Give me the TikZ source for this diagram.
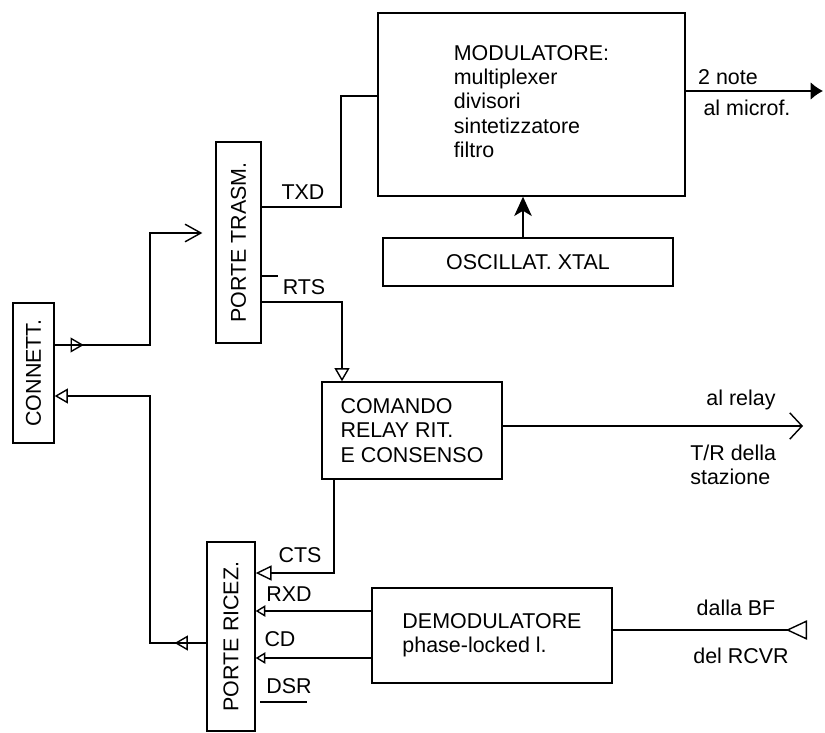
\documentclass[tikz,border=0pt]{standalone}
\usepackage{fontspec}
\setmainfont{Liberation Sans}
\usepackage{graphicx}
\usetikzlibrary{arrows.meta,decorations.markings}
\tikzset{
  OTri/.tip={Triangle[open,length=7.5pt,width=8.5pt,line width=0.8pt]},
  OTriB/.tip={Triangle[open,length=9pt,width=8.5pt,line width=0.8pt]},
  OTriS/.tip={Triangle[open,length=5.5pt,width=6.5pt,line width=0.8pt]},
  ORev/.tip={Triangle[open,reversed,length=12pt,width=11pt,line width=0.8pt]},
  Chev/.tip={Straight Barb[length=9pt,width=10pt,line width=0.8pt]},
  ChevW/.tip={Straight Barb[length=7pt,width=15pt,line width=0.8pt]},
}
\begin{document}
\begin{tikzpicture}[x=0.02cm,y=-0.02cm,
  every node/.style={font=\fontsize{12.2}{13.8}\selectfont},
  box/.style={draw, line width=0.8pt, inner sep=0pt},
  wire/.style={line width=0.8pt},
  lbl/.style={inner sep=0pt},
  midR/.style={postaction={decorate}, decoration={markings, mark=at position 16.5pt with {\arrow{OTri}}}},
  midL/.style={postaction={decorate}, decoration={markings, mark=at position 18pt with {\arrow{OTri}}}},
]
\useasboundingbox (0,0) rectangle (825,733);

% boxes
\node[box, minimum width=6.14cm, minimum height=3.66cm, align=left] (mod) at (531.5,104.5)
  {MODULATORE:\\multiplexer\\divisori\\sintetizzatore\\filtro\\[-10.4pt]};
\node[box, minimum width=5.8cm, minimum height=0.96cm] (osc) at (528,262) {OSCILLAT.\ XTAL};
\node[box, minimum width=0.9cm, minimum height=4.02cm] (ptr) at (238.5,242.5) {\rotatebox{90}{PORTE TRASM.}};
\node[box, minimum width=0.82cm, minimum height=2.8cm] (cn) at (33.5,373) {\rotatebox{90}{CONNETT.}};
\node[box, minimum width=3.6cm, minimum height=1.94cm, align=left] (com) at (412,430.5)
  {COMANDO\\RELAY RIT.\\E CONSENSO};
\node[box, minimum width=0.96cm, minimum height=3.78cm] (pri) at (231,636.5) {\rotatebox{90}{PORTE RICEZ.}};
\node[box, minimum width=4.8cm, minimum height=1.9cm, align=left] (dem) at (492,635.5)
  {DEMODULATORE\\phase-locked l.};

% free ends
\coordinate (mout) at (823,91);
\coordinate (rout) at (803,426);
\coordinate (bfin) at (807,630);
\coordinate (tickend) at (278,276);
\coordinate (dsrA) at (260,702);
\coordinate (dsrB) at (307,702);

% connectors
\draw[wire, midR, -Chev, shorten >=7.4pt] (cn.east |- 0,345) -- (150,345) |- (ptr.west |- 0,233);
\draw[wire, midL, -OTri] (pri.west |- 0,643) -- (150,643) |- (cn.east |- 0,396);
\draw[wire] (ptr.east |- 0,207) -- (341,207) |- (mod.west |- 0,96);
\draw[wire] (ptr.east |- tickend) -- (tickend);
\draw[wire, -OTri] (ptr.east |- 0,302) -| (com.north -| 342,0);
\draw[wire, -{Stealth[length=11pt,width=10pt,inset=3pt]}] (osc.north -| 523,0) -- (mod.south -| 523,0);
\draw[wire, -{Latex[length=7pt,width=10pt]}] (mod.east |- mout) -- (mout);
\draw[wire, -ChevW] (com.east |- rout) -- (rout);
\draw[wire, -OTriB] (com.south -| 334,0) |- (pri.east |- 0,573);
\draw[wire, -OTriS] (dem.west |- 0,611) -- (pri.east |- 0,611);
\draw[wire, -OTriS] (dem.west |- 0,658) -- (pri.east |- 0,658);
\draw[wire, ORev-] (bfin) -- (dem.east |- bfin);
\draw[wire] (dsrA) -- (dsrB);

% labels
\node[lbl] (lTXD) at (303,192) {TXD};
\node[lbl] (lRTS) at (304,287) {RTS};
\node[lbl] (lCTS) at (300,555) {CTS};
\node[lbl] (lRXD) at (289,594) {RXD};
\node[lbl] (lCD) at (280,639) {CD};
\node[lbl] (lDSR) at (289,686) {DSR};
\node[lbl] (l2n) at (728,77) {2 note};
\node[lbl] (lmic) at (747,108) {al microf.};
\node[lbl] (lrel) at (741,400) {al relay};
\node[lbl, anchor=west, align=left] (ltr) at (690,465) {T/R della\\stazione};
\node[lbl] (lbf) at (736,608) {dalla BF};
\node[lbl] (lrc) at (741,656) {del RCVR};
\end{tikzpicture}
\end{document}
